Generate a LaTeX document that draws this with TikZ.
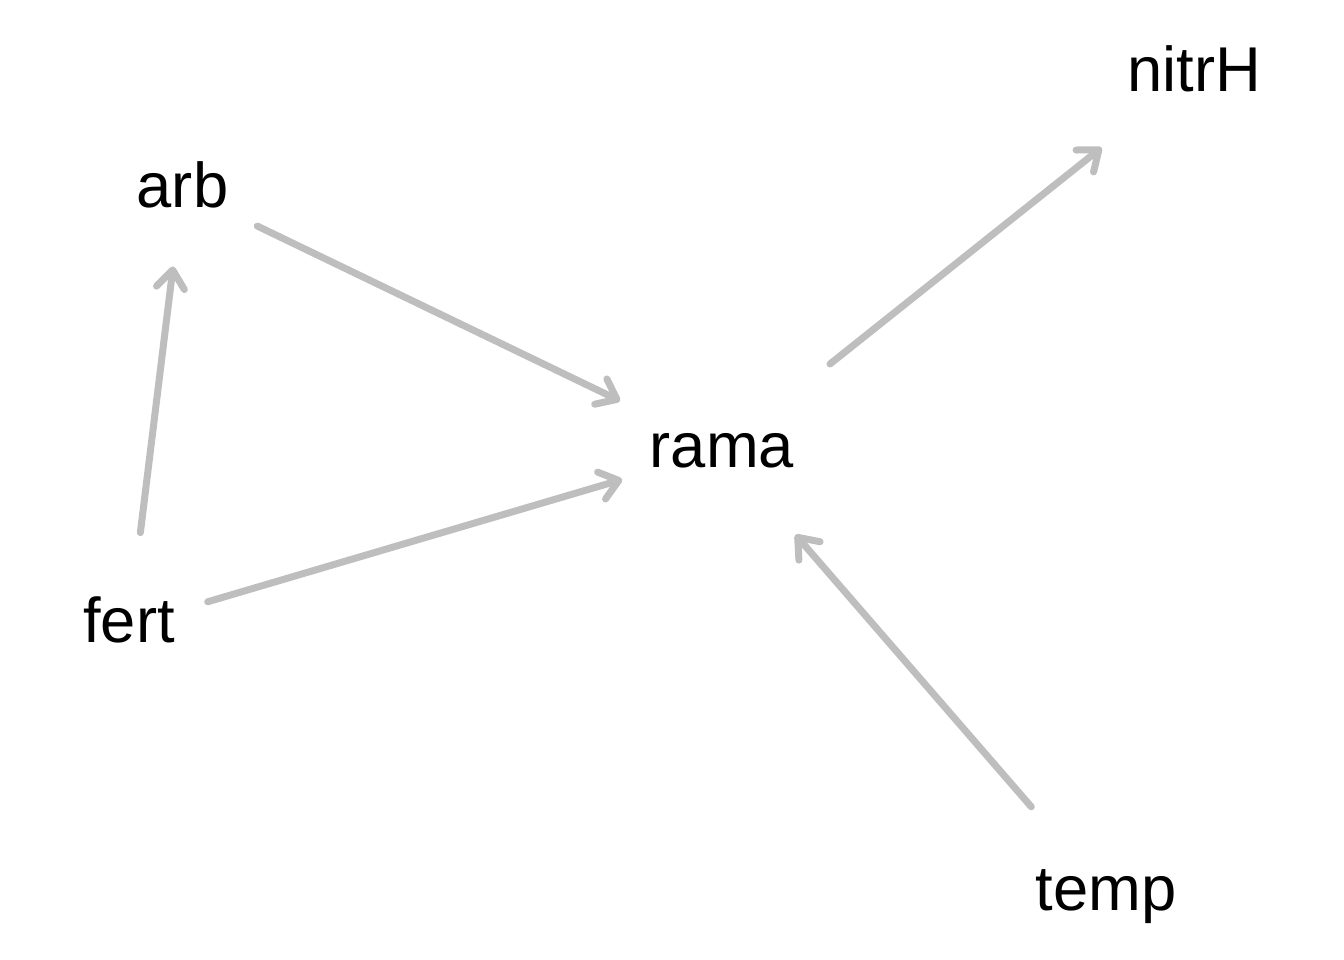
\documentclass[tikz,border=0pt]{standalone}
\usepackage{fontspec}
\setmainfont{Liberation Sans}
\usetikzlibrary{arrows.meta}
\definecolor{edgegray}{HTML}{BEBEBE}
\begin{document}
\begin{tikzpicture}[x=0.01cm,y=-0.01cm,
  lbl/.style={inner sep=0pt, text height=0.48cm, text depth=0.14cm,
    font=\fontsize{18}{22}\selectfont, text=black},
  edge/.style={draw=edgegray, line width=0.07cm, line cap=round, line join=round,
    -{Straight Barb[round, length=0.18cm, width=0.28cm]}}]
\useasboundingbox (0,0) rectangle (1344,960);
\node[lbl] (arb) at (182.5,190) {arb};
\node[lbl] (fert) at (129,625) {fert};
\node[lbl] (rama) at (722,450) {rama};
\node[lbl] (nitrH) at (1194,74) {nitrH};
\node[lbl] (temp) at (1106,893) {temp};
\draw[edge, shorten <=0.83cm, shorten >=1.13cm] (arb.center) -- (rama.center);
\draw[edge, shorten <=0.93cm, shorten >=0.77cm] (fert.center) -- (arb.center);
\draw[edge, shorten <=0.82cm, shorten >=1.04cm] (fert.center) -- (rama.center);
\draw[edge, shorten <=1.38cm, shorten >=1.18cm] (rama.center) -- (nitrH.center);
\draw[edge, shorten <=1.14cm, shorten >=1.12cm] (temp.center) -- (rama.center);
\end{tikzpicture}
\end{document}
